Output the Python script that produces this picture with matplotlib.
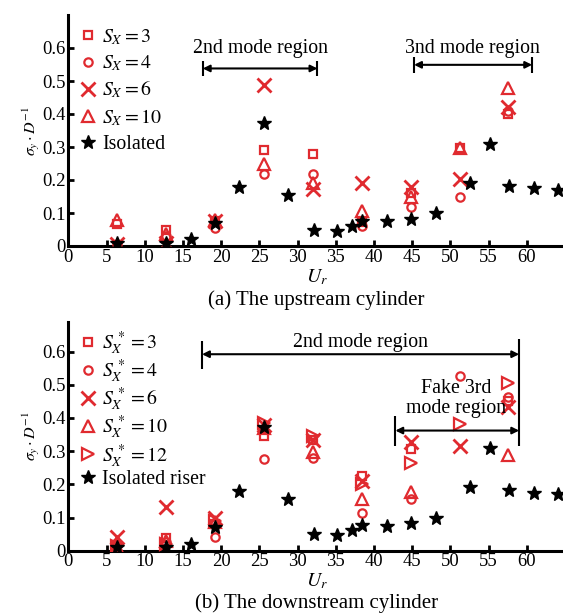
import numpy as np
import matplotlib
matplotlib.use("Agg")
import matplotlib.pyplot as plt

plt.rcParams['font.family'] = ['Liberation Serif', 'DejaVu Serif']
plt.rcParams['mathtext.fontset'] = 'stix'

RED = '#e02a2f'

# ---------------- data ----------------
ur_red = [6.4, 12.8, 19.2, 25.6, 32.0, 38.4, 44.8, 51.2, 57.6]

# upstream cylinder
up_s3 = [0.068, 0.047, 0.075, 0.292, 0.278, 0.072, 0.162, 0.296, 0.400]
up_s4 = [0.006, 0.030, 0.055, 0.218, 0.218, 0.061, 0.117, 0.150, 0.410]
up_s6 = [0.006, 0.010, 0.075, 0.487, 0.173, 0.192, 0.178, 0.203, 0.420]
up_s10 = [0.078, 0.035, 0.080, 0.248, 0.192, 0.107, 0.150, 0.296, 0.480]

# downstream cylinder
dn_s3 = [0.010, 0.038, 0.080, 0.347, 0.335, 0.224, 0.307, np.nan, 0.450]
dn_s4 = [0.020, 0.025, 0.040, 0.277, 0.279, 0.115, 0.155, 0.526, 0.463]
dn_s6 = [0.040, 0.131, 0.098, 0.380, 0.335, 0.210, 0.327, 0.314, 0.434]
dn_s10 = [0.012, 0.028, 0.085, 0.370, 0.296, 0.156, 0.178, np.nan, 0.287]
dn_s12 = [0.015, 0.020, 0.090, 0.385, 0.345, 0.200, 0.264, 0.382, 0.506]

# isolated riser
ur_iso = [6.4, 12.8, 16.0, 19.2, 22.4, 25.6, 28.8, 32.1, 35.2, 37.1, 38.5,
          41.7, 44.9, 48.1, 52.6, 55.2, 57.7, 61.0, 64.1]
iso = [0.010, 0.010, 0.020, 0.070, 0.180, 0.372, 0.155, 0.050, 0.046, 0.061,
       0.077, 0.075, 0.082, 0.099, 0.192, 0.308, 0.182, 0.175, 0.170]

xticks = [0, 5, 10, 15, 20, 25, 30, 35, 40, 45, 50, 55, 60]
yticks = [0, 0.1, 0.2, 0.3, 0.4, 0.5, 0.6]
ytick_labels = ['0', '0.1', '0.2', '0.3', '0.4', '0.5', '0.6']

FS_TICK = 13.4
FS = 14.3
FS_CAP = 15

fig = plt.figure(figsize=(5.63, 6.15), dpi=100)
W, H = 563, 615
x0 = 68.3
ax1 = fig.add_axes([x0 / W, (H - 246) / H, (565 - x0) / W, (246 - 15) / H])
ax2 = fig.add_axes([x0 / W, (H - 550.7) / H, (565 - x0) / W, (550.7 - 321.7) / H])

red_kw = dict(linestyle='none', color=RED, markerfacecolor='none',
              markeredgewidth=1.6, zorder=3)
m_sq = dict(marker='s', markersize=6)
m_ci = dict(marker='o', markersize=6)
m_x = dict(marker='x', markersize=10, markeredgewidth=2.0)
m_tri = dict(marker='^', markersize=8)
m_rt = dict(marker='>', markersize=8)
star_kw = dict(linestyle='none', marker='*', color='black', markersize=10, zorder=4)


def style(ax, ymax):
    for s in ['top', 'right']:
        ax.spines[s].set_visible(False)
    for s in ['left', 'bottom']:
        ax.spines[s].set_linewidth(2.2)
    ax.set_xlim(0, 65)
    ax.set_ylim(0, ymax)
    ax.set_xticks(xticks)
    ax.set_yticks(yticks)
    ax.set_yticklabels(ytick_labels)
    ax.tick_params(direction='in', length=4, width=2, labelsize=FS_TICK, pad=2)
    ax.set_ylabel(r'$\sigma_y\cdot D^{-1}$', fontsize=11.5, labelpad=0)
    ax.set_xlabel(r'$U_r$', fontsize=FS, labelpad=1)


def dim_arrow(ax, xa, xb, y):
    ax.annotate('', xy=(xa, y), xytext=(xb, y),
                arrowprops=dict(arrowstyle='<|-|>', color='black', lw=1.5,
                                mutation_scale=10, shrinkA=0, shrinkB=0))


# ---- upstream ----
ax1.plot(ur_red, up_s3, label=r'$S_X = 3$', **red_kw, **m_sq)
ax1.plot(ur_red, up_s4, label=r'$S_X = 4$', **red_kw, **m_ci)
kw = dict(red_kw); kw.update(m_x)
ax1.plot(ur_red, up_s6, label=r'$S_X = 6$', **kw)
ax1.plot(ur_red, up_s10, label=r'$S_X = 10$', **red_kw, **m_tri)
ax1.plot(ur_iso, iso, label='Isolated', **star_kw)
style(ax1, 0.70)
ax1.legend(loc='upper left', bbox_to_anchor=(0.0, 0.98), frameon=False,
           fontsize=FS, handletextpad=0.1, labelspacing=0.33, handlelength=1.2,
           borderpad=0.2, borderaxespad=0.2)

dim_arrow(ax1, 17.6, 32.6, 0.538)
ax1.vlines([17.6, 32.6], 0.516, 0.560, color='black', lw=1.5)
ax1.text(25.1, 0.60, '2nd mode region', fontsize=FS, ha='center', va='center')
dim_arrow(ax1, 45.25, 60.7, 0.549)
ax1.vlines([45.25, 60.7], 0.525, 0.573, color='black', lw=1.5)
ax1.text(52.9, 0.597, '3nd mode region', fontsize=FS, ha='center', va='center')
ax1.text(0.5, -0.234, '(a) The upstream cylinder', transform=ax1.transAxes,
         fontsize=FS_CAP, ha='center', va='center')

# ---- downstream ----
ax2.plot(ur_red, dn_s3, label=r'$S_X^{\,*} = 3$', **red_kw, **m_sq)
ax2.plot(ur_red, dn_s4, label=r'$S_X^{\,*} = 4$', **red_kw, **m_ci)
ax2.plot(ur_red, dn_s6, label=r'$S_X^{\,*} = 6$', **kw)
ax2.plot(ur_red, dn_s10, label=r'$S_X^{\,*} = 10$', **red_kw, **m_tri)
ax2.plot(ur_red, dn_s12, label=r'$S_X^{\,*} = 12$', **red_kw, **m_rt)
ax2.plot(ur_iso, iso, label='Isolated riser', **star_kw)
style(ax2, 0.69)
ax2.legend(loc='upper left', bbox_to_anchor=(0.0, 1.0), frameon=False,
           fontsize=FS, handletextpad=0.1, labelspacing=0.03, handlelength=1.2,
           borderpad=0.2, borderaxespad=0.2)

dim_arrow(ax2, 17.5, 59.0, 0.592)
ax2.vlines(17.5, 0.546, 0.632, color='black', lw=1.5)
ax2.vlines(59.0, 0.315, 0.637, color='black', lw=1.5)
ax2.text(38.2, 0.627, '2nd mode region', fontsize=FS, ha='center', va='center')
dim_arrow(ax2, 42.8, 59.0, 0.362)
ax2.vlines(42.8, 0.315, 0.405, color='black', lw=1.5)
ax2.text(50.8, 0.459, 'Fake 3rd\nmode region', fontsize=FS, ha='center',
         va='center', linespacing=1.05)
ax2.text(0.5, -0.228, '(b) The downstream cylinder', transform=ax2.transAxes,
         fontsize=FS_CAP, ha='center', va='center')

fig.savefig('out.png', dpi=100)
